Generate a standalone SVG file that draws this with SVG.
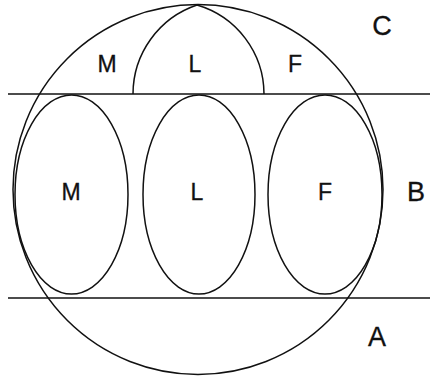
<svg xmlns="http://www.w3.org/2000/svg" width="430" height="379" viewBox="0 0 430 379">
<style>
.s{fill:none;stroke:#111;stroke-width:1.5}
.t{font-family:"Liberation Sans",Arial,sans-serif;font-size:23px;fill:#111;stroke:#111;stroke-width:0.3;text-anchor:middle}
.o{font-size:27px}
</style>
<rect width="430" height="379" fill="#fff"/>
<g id="connectors">
<line class="s" x1="8" y1="94" x2="430" y2="94"/>
<line class="s" x1="8" y1="298" x2="430" y2="298"/>
</g>
<g id="outer"><circle class="s" cx="198" cy="189.5" r="185"/></g>
<g id="arch"><path class="s" d="M133,94 A94,94 0 0 1 197,5 A93,93 0 0 1 264,94"/></g>
<g id="ellM"><ellipse class="s" cx="71.5" cy="194.5" rx="56.5" ry="99.5"/></g>
<g id="ellL"><ellipse class="s" cx="199" cy="194.5" rx="56" ry="99.5"/></g>
<g id="ellF"><ellipse class="s" cx="325" cy="194.5" rx="57" ry="99.5"/></g>
<g id="labels">
<text class="t" x="107" y="72">M</text>
<text class="t" x="195" y="72">L</text>
<text class="t" x="295" y="72">F</text>
<text class="t" x="71" y="200">M</text>
<text class="t" x="197" y="200">L</text>
<text class="t" x="325" y="200">F</text>
<text class="t o" x="382" y="35">C</text>
<text class="t o" x="416" y="201">B</text>
<text class="t o" x="377" y="346">A</text>
</g>
</svg>
